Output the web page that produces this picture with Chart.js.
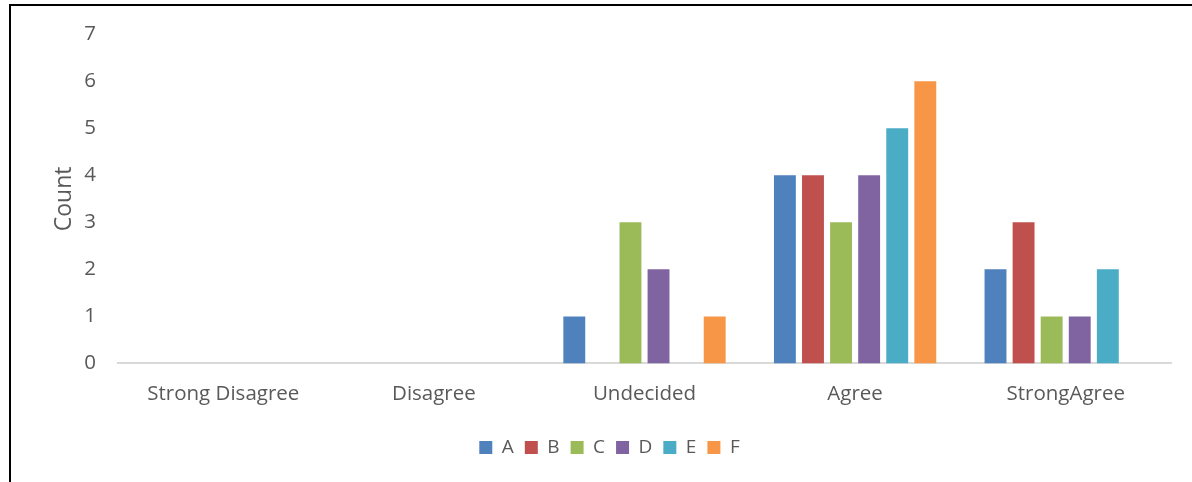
<!DOCTYPE html>
<html>
<head>
<meta charset="utf-8">
<script src="https://cdn.jsdelivr.net/npm/chart.js@4"></script>
<style>
  html, body { margin: 0; padding: 0; background: #fff; }
  #wrap { position: relative; width: 1192px; height: 482px; }
  #frame { position: absolute; left: 9px; top: 4px; right: 0; bottom: 0;
           border-left: 2px solid #000; border-top: 2px solid #000; pointer-events: none; }
  canvas { position: absolute; left: 0; top: 0; }
</style>
</head>
<body>
<div id="wrap">
  <canvas id="chart" width="1192" height="482"></canvas>
  <div id="frame"></div>
</div>
<script>
const categories = ['Strong Disagree', 'Disagree', 'Undecided', 'Agree', 'StrongAgree'];
const seriesNames = ['A', 'B', 'C', 'D', 'E', 'F'];
const seriesA = [0, 0, 1, 4, 2];
const seriesB = [0, 0, 0, 4, 3];
const seriesC = [0, 0, 3, 3, 1];
const seriesD = [0, 0, 2, 4, 1];
const seriesE = [0, 0, 0, 5, 2];
const seriesF = [0, 0, 1, 6, 0];
const yTicks = [0, 1, 2, 3, 4, 5, 6, 7];

const colors = ['#4F81BD', '#C0504D', '#9BBB59', '#8064A2', '#4BACC6', '#F79646'];
const allSeries = [seriesA, seriesB, seriesC, seriesD, seriesE, seriesF];
const FONT = '"Open Sans", sans-serif';
const TEXT = '#595959';

new Chart(document.getElementById('chart'), {
  type: 'bar',
  data: {
    labels: categories,
    datasets: allSeries.map((d, i) => ({
      label: seriesNames[i],
      data: d,
      backgroundColor: colors[i],
      categoryPercentage: 0.8,
      barPercentage: 0.78
    }))
  },
  options: {
    responsive: false,
    animation: false,
    layout: { padding: { left: 48, right: 21, top: 25, bottom: 15 } },
    plugins: {
      tooltip: { enabled: false },
      legend: {
        position: 'bottom',
        labels: {
          font: { family: FONT, size: 19 },
          color: TEXT,
          boxWidth: 13,
          boxHeight: 13,
          padding: 11
        }
      }
    },
    scales: {
      x: {
        afterFit: s => { s.height += 3; },
        grid: { display: false, drawTicks: false },
        border: { display: true, color: '#d9d9d9', width: 2 },
        ticks: { font: { family: FONT, size: 20.5 }, color: TEXT, padding: 18 }
      },
      y: {
        min: 0, max: 7,
        afterFit: s => { s.width = 70; },
        afterBuildTicks: s => { s.ticks = yTicks.map(v => ({ value: v })); },
        grid: { display: false, drawTicks: false },
        border: { display: false },
        ticks: { font: { family: FONT, size: 20.5 }, color: TEXT, padding: 22 },
        title: {
          display: true, text: 'Count',
          font: { family: FONT, size: 23 }, color: TEXT,
          padding: { top: 3, bottom: 0 }
        }
      }
    }
  }
});
</script>
</body>
</html>
